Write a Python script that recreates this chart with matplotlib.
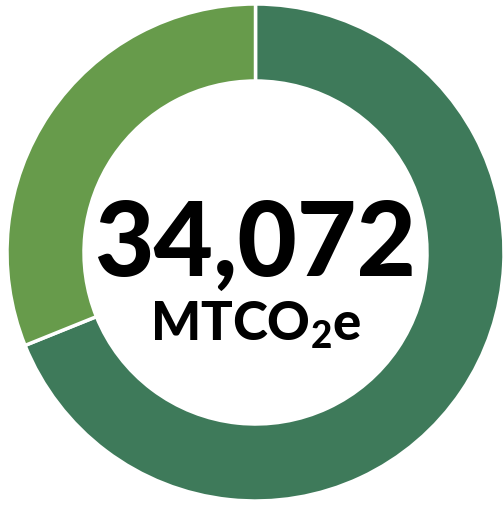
import matplotlib
matplotlib.use('Agg')
import matplotlib.pyplot as plt

# emissions split, total in the middle
shares = [68.9, 31.1]
colors = ['#3e7a5a', '#679b4b']
total_label = '34,072'
unit_label = 'MTCO$_2$e'

plt.rcParams['mathtext.default'] = 'regular'

W, H = 504, 506
fig = plt.figure(figsize=(W / 100, H / 100), dpi=100)
ax = fig.add_axes([0, 0, 1, 1])

cx, cy, r = 255.5, H - 253.5, 248.5
ax.pie(shares, colors=colors, startangle=90, counterclock=False,
       center=(cx, cy), radius=r, frame=True,
       wedgeprops=dict(width=77, edgecolor='white', linewidth=2.5))
ax.set_xlim(0, W)
ax.set_ylim(0, H)
ax.axis('off')

# baselines measured from the top of the picture
ax.text(cx, H - 276, total_label, ha='center', va='baseline',
        fontsize=74, fontweight='black', family='Lato', color='black')
ax.text(cx, H - 341, unit_label, ha='center', va='baseline',
        fontsize=38, fontweight='black', family='Lato', color='black')

fig.savefig('out.png', dpi=100)
